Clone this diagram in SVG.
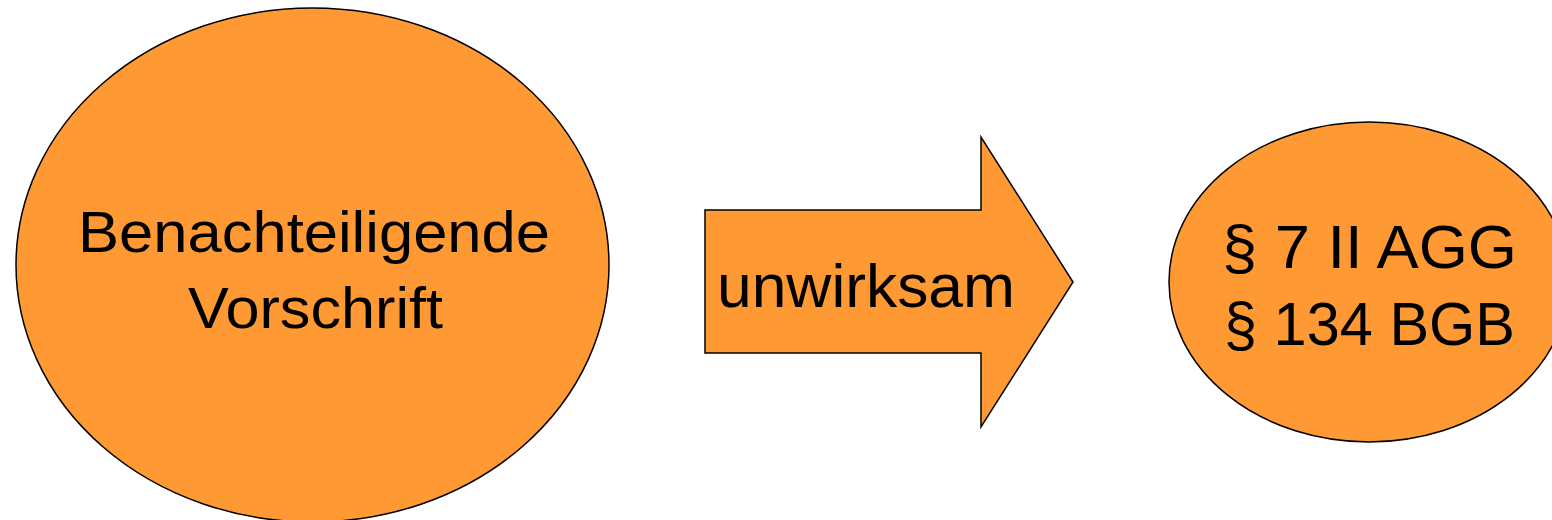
<svg xmlns="http://www.w3.org/2000/svg" width="1552" height="520" viewBox="0 0 1552 520">
<style>
.shape{fill:#FF9933;stroke:#000;stroke-width:1.5}
.t{font-family:"Liberation Sans",Arial,sans-serif;fill:#000}
</style>
<rect width="1552" height="520" fill="#fff"/>
<g id="node-vorschrift">
<ellipse class="shape" cx="312.5" cy="265" rx="296.5" ry="257"/>
<text class="t" x="78" y="252" font-size="57" textLength="472" lengthAdjust="spacingAndGlyphs">Benachteiligende</text>
<text class="t" x="188" y="328" font-size="57" textLength="255" lengthAdjust="spacingAndGlyphs">Vorschrift</text>
</g>
<g id="connectors">
<g id="arrow-unwirksam">
<polygon class="shape" points="705,210 981,210 981,137 1073,282 981,427 981,353 705,353"/>
<text class="t" x="717" y="307" font-size="62" textLength="298" lengthAdjust="spacingAndGlyphs">unwirksam</text>
</g>
</g>
<g id="node-paragraphen">
<ellipse class="shape" cx="1369" cy="282" rx="200" ry="160"/>
<text class="t" x="1222" y="268" font-size="62" textLength="295" lengthAdjust="spacingAndGlyphs">§ 7 II AGG</text>
<text class="t" x="1224" y="345" font-size="62" textLength="291" lengthAdjust="spacingAndGlyphs">§ 134 BGB</text>
</g>
</svg>
